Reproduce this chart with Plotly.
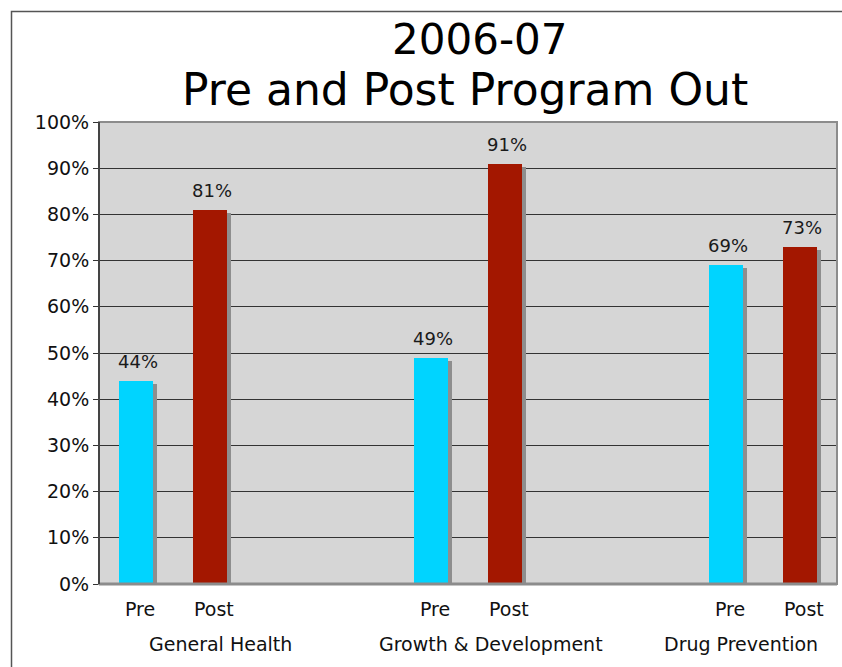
import plotly.graph_objects as go

# ---- data ----
groups = ["General Health", "Growth & Development", "Drug Prevention"]
phases = ["Pre", "Post"]
pre_values = [44, 49, 69]
post_values = [81, 91, 73]
title_line1 = "2006-07"
title_line2 = "Pre and Post Program Out"
y_ticks = [0, 10, 20, 30, 40, 50, 60, 70, 80, 90, 100]
y_tick_labels = [f"{t}%" for t in y_ticks]

# ---- layout constants ----
W, H = 842, 667
ML, MR, MT, MB = 99, 5, 122, 83
PW, PH = W - ML - MR, H - MT - MB
SLOTS_PER_GROUP = 4
BAR_W = 0.46
SHADOW_DX = 0.054
SHADOW_DY = 0.65
GROUP_LABEL_X = [1.14, 4.81, 8.20]
FONT = "DejaVu Sans"
PRE_COLOR = "#00D4FF"
POST_COLOR = "#A31700"
SHADOW = "#8E8E8E"


def px_x(p):
    return (p - ML) / PW


def px_y(p):
    return (H - MB - p) / PH


x_pre = [g * SLOTS_PER_GROUP for g in range(len(groups))]
x_post = [g * SLOTS_PER_GROUP + 1 for g in range(len(groups))]

fig = go.Figure()

# shadows
for xs, vals in [(x_pre, pre_values), (x_post, post_values)]:
    fig.add_trace(go.Bar(
        x=xs, y=[v - SHADOW_DY for v in vals], width=BAR_W,
        offset=-BAR_W / 2 + SHADOW_DX, marker=dict(color=SHADOW, line=dict(width=0)),
        hoverinfo="skip", showlegend=False))

# main bars
for xs, vals, col, name in [(x_pre, pre_values, PRE_COLOR, phases[0]),
                            (x_post, post_values, POST_COLOR, phases[1])]:
    fig.add_trace(go.Bar(
        x=xs, y=vals, width=BAR_W, offset=-BAR_W / 2, name=name,
        marker=dict(color=col, line=dict(width=0)), showlegend=False))

annotations = []
# value labels
for xs, vals in [(x_pre, pre_values), (x_post, post_values)]:
    for x, v in zip(xs, vals):
        annotations.append(dict(
            x=x, y=v, xref="x", yref="y", text=f"{v}%", showarrow=False,
            yanchor="bottom", xanchor="center", yshift=7, xshift=2,
            font=dict(family=FONT, size=18, color="#1a1a1a")))

# phase labels under bars
for xs, ph in [(x_pre, phases[0]), (x_post, phases[1])]:
    for x in xs:
        annotations.append(dict(
            x=x, y=px_y(608.5), xref="x", yref="paper", text=ph, showarrow=False,
            yanchor="middle", xanchor="center", xshift=4,
            font=dict(family=FONT, size=19, color="#111111")))

# group labels
for gx, g in zip(GROUP_LABEL_X, groups):
    annotations.append(dict(
        x=gx, y=px_y(644), xref="x", yref="paper", text=g, showarrow=False,
        yanchor="middle", xanchor="center",
        font=dict(family=FONT, size=19, color="#111111")))

# title
annotations.append(dict(
    x=px_x(480), y=px_y(39), xref="paper", yref="paper", text=title_line1,
    showarrow=False, xanchor="center", yanchor="middle", borderpad=0,
    font=dict(family=FONT, size=42, color="#000000")))
annotations.append(dict(
    x=px_x(181), y=px_y(89.5), xref="paper", yref="paper", text=title_line2,
    showarrow=False, xanchor="left", yanchor="middle", borderpad=0,
    font=dict(family=FONT, size=44, color="#000000")))

shapes = [
    # plot area border (top / right / bottom gray)
    dict(type="rect", xref="paper", yref="paper", x0=0, x1=1, y0=0, y1=1,
         line=dict(color="#8C8C8C", width=2), layer="above"),
    dict(type="line", xref="paper", yref="paper", x0=0, x1=1, y0=0, y1=0,
         line=dict(color="#8C8C8C", width=3), layer="above"),
    dict(type="line", xref="paper", yref="paper", x0=0, x1=0, y0=0, y1=1,
         line=dict(color="#444444", width=2), layer="above"),
    # outer chart frame (cut off at right / bottom)
    dict(type="path", xref="paper", yref="paper",
         path=f"M {px_x(11.5)} {px_y(700)} L {px_x(11.5)} {px_y(11.5)} L {px_x(900)} {px_y(11.5)}",
         line=dict(color="#555555", width=1.5)),
]

fig.update_layout(
    width=W, height=H,
    margin=dict(l=ML, r=MR, t=MT, b=MB, pad=0),
    paper_bgcolor="white", plot_bgcolor="#D6D6D6",
    barmode="overlay", bargap=0,
    showlegend=False,
    annotations=annotations, shapes=shapes,
    xaxis=dict(range=[-0.5, 9.5], showticklabels=False, showgrid=False,
               zeroline=False, ticks="", fixedrange=True),
    yaxis=dict(range=[0, 100], tickmode="array", tickvals=y_ticks, ticktext=y_tick_labels,
               ticks="outside", ticklen=5, tickcolor="#333333", tickwidth=1,
               showgrid=True, gridcolor="#333333", gridwidth=1, zeroline=False,
               tickfont=dict(family=FONT, size=19, color="#111111"),
               showline=False, fixedrange=True),
)

fig.write_html("out.html", config={"displayModeBar": False},
               post_script="document.body.style.margin='0';document.body.style.overflow='hidden';")
